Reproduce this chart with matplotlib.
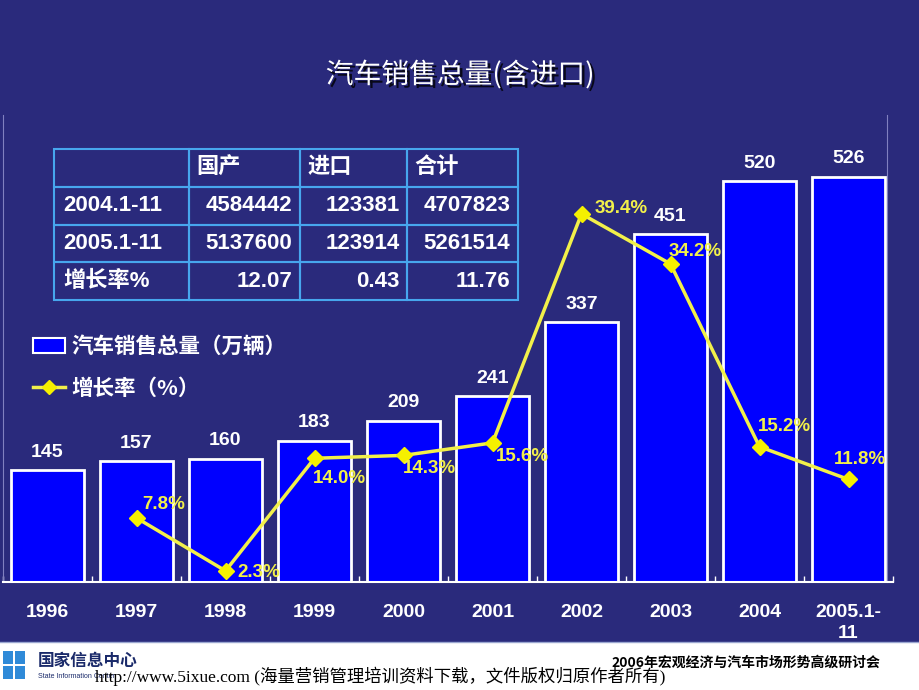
import matplotlib.pyplot as plt
import matplotlib.patheffects as pe
from matplotlib.patches import Rectangle, Patch
from matplotlib.lines import Line2D

plt.rcParams['font.family'] = ['Liberation Sans', 'Noto Sans CJK SC', 'DejaVu Sans']

years = ['1996', '1997', '1998', '1999', '2000', '2001', '2002', '2003', '2004', '2005.1-\n11']
sales = [145, 157, 160, 183, 209, 241, 337, 451, 520, 526]
growth_years = [1, 2, 3, 4, 5, 6, 7, 8, 9]
growth = [7.8, 2.3, 14.0, 14.3, 15.6, 39.4, 34.2, 15.2, 11.8]
# label offsets (pixels) for the growth labels
growth_offsets = [(6, 13), (12, -2), (-2, -20), (-1, -13), (3, -14), (13, 5), (-2, 12), (-2, 20), (-15, 20)]

table_cols = ['', '国产', '进口', '合计']
table_rows = [
    ['2004.1-11', '4584442', '123381', '4707823'],
    ['2005.1-11', '5137600', '123914', '5261514'],
    ['增长率%', '12.07', '0.43', '11.76'],
]

bg = '#2a2a7c'
yellow = '#f2f04a'
W, H = 920, 690

fig = plt.figure(figsize=(9.2, 6.9), dpi=100, facecolor=bg)

# footer band
fig.patches.append(Rectangle((0, 0), 1, 48 / H, transform=fig.transFigure, facecolor='white',
                             edgecolor='none', zorder=0))
fig.add_artist(Line2D([0, 1], [48 / H, 48 / H], transform=fig.transFigure, color='#9aa6d0', lw=1))

# title
fig.text(0.5, 1 - 75 / H, '汽车销售总量(含进口)', ha='center', va='center', color='white',
         fontsize=20, family=['Noto Sans CJK SC'], weight='medium',
         path_effects=[pe.withSimplePatchShadow(offset=(2, -2), shadow_rgbFace='black', alpha=0.8)])

ax = fig.add_axes([3 / W, 1 - 582 / H, 890 / W, 467 / H])
ax.set_facecolor('none')
x = list(range(len(years)))
ax.bar(x, sales, width=0.83, color='#0000ff', edgecolor='white', linewidth=2, zorder=2)
for xi, v in zip(x, sales):
    ax.annotate(str(v), (xi, v), xytext=(0, 18), textcoords='offset pixels', ha='center', va='center',
                color='white', fontsize=14, weight='bold')
ax.set_xlim(-0.5, 9.5)
ax.set_ylim(0, 606)
ax.set_xticks(x)
ax.set_xticklabels(years, color='white', fontsize=14, weight='bold', linespacing=1.3)
ax.set_xticks([i + 0.5 for i in range(-1, 10)], minor=True)
ax.tick_params(axis='x', which='major', length=0, pad=16)
ax.tick_params(axis='x', which='minor', length=4, direction='in', color='white', width=1)
ax.set_yticks([])
ax.spines['top'].set_visible(False)
ax.spines['bottom'].set_color('white')
ax.spines['bottom'].set_linewidth(1.5)
ax.spines['left'].set_color('#8080c0')
ax.spines['right'].set_color('#8080c0')
ax.spines['right'].set_position(('data', 9.43))

ax2 = ax.twinx()
ax2.set_ylim(1.14, 49.68)
ax2.plot(growth_years, growth, color=yellow, lw=2.5, marker='D', markersize=8,
         markerfacecolor='#f5f000', markeredgecolor='#f5f000', zorder=3)
for xi, v, off in zip(growth_years, growth, growth_offsets):
    ax2.annotate(f'{v:.1f}%', (xi, v), xytext=off, textcoords='offset pixels', ha='left', va='center',
                 color=yellow, fontsize=13.5, weight='bold')
ax2.set_yticks([])
for s in ax2.spines.values():
    s.set_visible(False)

# legend
handles = [Patch(facecolor='#0000ff', edgecolor='white', linewidth=1.5),
           Line2D([], [], color=yellow, lw=2.5, marker='D', markersize=7, markerfacecolor='#f5f000',
                  markeredgecolor='#f5f000')]
leg = fig.legend(handles, ['汽车销售总量（万辆）', '增长率（%）'], loc='upper left',
                 bbox_to_anchor=(33 / W, 1 - 336 / H), frameon=False, borderpad=0, borderaxespad=0,
                 handlelength=1.5, handletextpad=0.3, labelspacing=0.95,
                 prop={'family': ['Noto Sans CJK SC'], 'weight': 'bold', 'size': 15.5})
for t in leg.get_texts():
    t.set_color('white')

# table
tax = fig.add_axes([54 / W, 1 - 300 / H, 464 / W, 151 / H])
tax.axis('off')
tbl = tax.table(cellText=table_rows, colLabels=table_cols, cellLoc='right', colLoc='left',
                bbox=[0, 0, 1, 1], colWidths=[135, 111, 107, 111])
tbl.auto_set_font_size(False)
for (r, c), cell in tbl.get_celld().items():
    cell.set_facecolor('none')
    cell.set_edgecolor('#47a6ee')
    cell.set_linewidth(1.5)
    cell.PAD = 0.07
    txt = cell.get_text()
    if c == 0 or r == 0:
        txt.set_horizontalalignment('left')
    txt.set_color('white')
    txt.set_fontsize(16)
    txt.set_fontweight('bold')
    txt.set_fontfamily(['Liberation Sans', 'Noto Sans CJK SC'])

# footer logo and texts
for (lx, ly) in [(3, 651), (15, 651), (3, 666), (15, 666)]:
    fig.patches.append(Rectangle((lx / W, 1 - (ly + 13) / H), 10 / W, 13 / H, transform=fig.transFigure,
                                 facecolor='#2f8ad8', edgecolor='none'))
fig.text(38 / W, 1 - 661 / H, '国家信息中心', color='#1a2a6a', fontsize=12, weight='bold',
         family=['Noto Sans CJK SC'], va='center')
fig.text(38 / W, 1 - 677 / H, 'State Information Center', color='#1a2a6a', fontsize=5, va='center')
fig.text(95 / W, 1 - 676 / H, 'http://www.5ixue.com (海量营销管理培训资料下载，文件版权归原作者所有)',
         color='black', fontsize=12.5, va='center', family=['Liberation Serif', 'Noto Sans CJK SC'])
fig.text(880 / W, 1 - 663 / H, '2006年宏观经济与汽车市场形势高级研讨会', color='black', fontsize=10,
         weight='bold', ha='right', va='center', family=['Noto Sans CJK SC'])

fig.savefig('out.png', dpi=100, facecolor=bg)
